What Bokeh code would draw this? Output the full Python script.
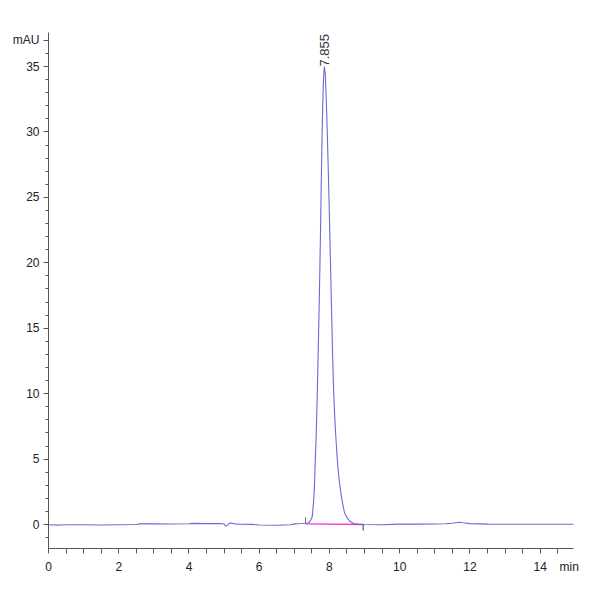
import math
from bokeh.plotting import figure
from bokeh.models import FixedTicker, Range1d
from bokeh.core.properties import value
from bokeh.embed import file_html
from bokeh.resources import INLINE

# ---- data ----
time_min = [0.0, 0.3, 0.6, 1.0, 1.5, 2.0, 2.5, 2.6, 3.0, 3.5, 4.0, 4.1, 4.5, 4.9,
            5.0, 5.05, 5.1, 5.15, 5.2, 5.3, 5.5, 5.8, 6.0, 6.5, 6.9, 7.0, 7.2, 7.3,
            7.38, 7.43, 7.47, 7.51, 7.55, 7.575, 7.59, 7.62, 7.65, 7.68, 7.716,
            7.745, 7.77, 7.80, 7.83, 7.855, 7.88, 7.91, 7.94, 7.97, 8.00, 8.05,
            8.09, 8.12, 8.15, 8.18, 8.21, 8.24, 8.29, 8.36, 8.43, 8.50, 8.58, 8.68,
            8.8, 9.0, 9.5, 10.0, 10.5, 11.0, 11.3, 11.5, 11.7, 11.8, 12.0, 12.5,
            13.0, 13.5, 14.0, 14.5, 14.95]
signal_mau = [-0.02, -0.04, -0.01, -0.02, -0.03, -0.01, 0.0, 0.05, 0.05, 0.04, 0.06,
              0.09, 0.07, 0.08, 0.04, -0.12, -0.04, 0.10, 0.12, 0.05, 0.02, 0.01,
              -0.03, -0.05, -0.02, 0.05, 0.08, 0.10,
              0.12, 0.20, 0.35, 0.60, 1.8, 3.1, 4.35, 6.6, 9.6, 13.2, 17.8,
              22.3, 26.5, 31.0, 34.0, 35.0, 34.5, 32.5, 29.8, 26.8, 23.5, 17.6,
              13.0, 10.2, 8.3, 6.8, 5.5, 4.4, 3.1, 1.83, 0.9, 0.53, 0.25, 0.08,
              0.03, 0.0, -0.02, 0.03, 0.03, 0.04, 0.06, 0.10, 0.18, 0.14, 0.07, 0.03,
              0.02, 0.02, 0.02, 0.02, 0.02]

baseline_time = [7.32, 8.96]
baseline_mau = [0.05, 0.0]

start_time = [7.32]
start_y0 = [0.05]
start_y1 = [0.55]
end_time = [8.96]
end_y0 = [0.0]
end_y1 = [-0.45]

peak_time = [7.855]
peak_mau = [35.0]
peak_labels = ["7.855"]

x_labels = [0, 2, 4, 6, 8, 10, 12, 14]
x_unit_pos = 14.83
x_unit = "min"
x_ticks = [i * 0.5 for i in range(0, 30)]
y_labels = [0, 5, 10, 15, 20, 25, 30, 35]
y_unit_pos = 37
y_unit = "mAU"
y_minor = list(range(-1, 38))

# ---- figure ----
p = figure(width=584, height=584, output_backend="svg", toolbar_location=None,
           x_range=Range1d(0, 14.95), y_range=Range1d(-1.83, 37.6),
           min_border_left=48, min_border_right=11, min_border_top=32,
           min_border_bottom=36)
p.outline_line_color = None
p.xgrid.visible = False
p.ygrid.visible = False
p.background_fill_color = "white"

for ax in (p.xaxis[0], p.yaxis[0]):
    ax.axis_line_color = "#555555"
    ax.major_tick_line_color = "#555555"
    ax.minor_tick_line_color = "#555555"
    ax.major_tick_in = 0
    ax.minor_tick_in = 0
    ax.major_label_text_font = "Liberation Sans"
    ax.major_label_text_font_size = "12px"
    ax.major_label_text_color = "#222222"

# x: visible tick marks are drawn as "minor" ticks, labels as zero-length majors
p.xaxis.ticker = FixedTicker(ticks=x_labels + [x_unit_pos], minor_ticks=x_ticks)
p.xaxis.major_label_overrides = {x_unit_pos: x_unit}
p.xaxis.major_tick_out = 0
p.xaxis.minor_tick_out = 5
p.xaxis.major_label_standoff = 6

p.yaxis.ticker = FixedTicker(ticks=y_labels + [y_unit_pos], minor_ticks=y_minor)
p.yaxis.major_label_overrides = {y_unit_pos: y_unit}
p.yaxis.major_tick_out = 5
p.yaxis.minor_tick_out = 3
p.yaxis.major_label_standoff = 4

# integration baseline and event ticks
p.line(baseline_time, baseline_mau, line_color="#f03cd2", line_width=1.4)
p.segment(x0=start_time, y0=start_y0, x1=start_time, y1=start_y1,
          line_color="#4d7a55", line_width=1)
p.segment(x0=end_time, y0=end_y0, x1=end_time, y1=end_y1,
          line_color="#333333", line_width=1)

# signal trace
p.line(time_min, signal_mau, line_color="#6a6ad8", line_width=1.1)

# peak label
p.text(x=peak_time, y=peak_mau, text=peak_labels, angle=math.pi / 2,
       text_align="left", text_baseline="middle",
       text_font=value("Liberation Sans"), text_font_size="13px",
       text_color="#333333")

open("out.html", "w").write(file_html(p, INLINE))
